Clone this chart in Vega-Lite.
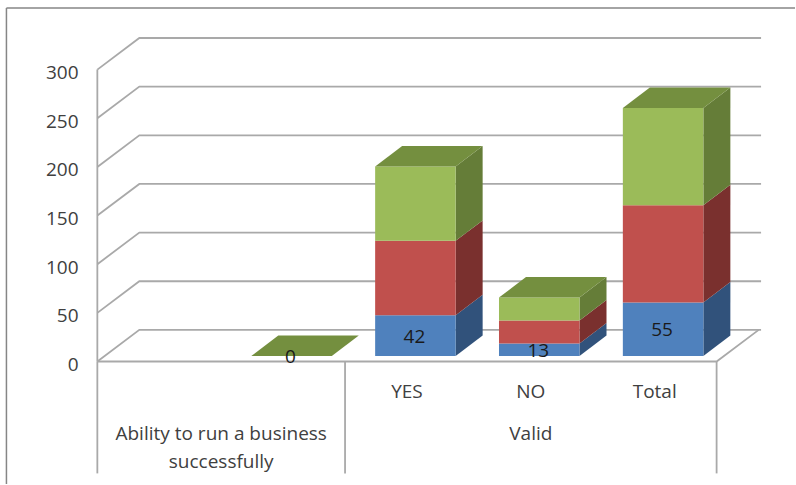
{
  "$schema": "https://vega.github.io/schema/vega-lite/v6.json",
  "width": 796,
  "height": 485,
  "padding": 0,
  "autosize": {"type": "fit", "contains": "padding"},
  "background": "white",
  "config": {
    "view": {"stroke": null},
    "axisY": {"grid": false, "domain": false, "ticks": false, "labelFont": "Open Sans", "labelFontSize": 19, "labelColor": "#404040"}
  },
  "data": {"values": [
    {"group": "Ability to run a business successfully", "category": "", "series": "Frequency", "value": 0},
    {"group": "Ability to run a business successfully", "category": "", "series": "Percent", "value": 0},
    {"group": "Ability to run a business successfully", "category": "", "series": "Valid Percent", "value": 0},
    {"group": "Valid", "category": "YES", "series": "Frequency", "value": 42},
    {"group": "Valid", "category": "YES", "series": "Percent", "value": 76.4},
    {"group": "Valid", "category": "YES", "series": "Valid Percent", "value": 76.4},
    {"group": "Valid", "category": "NO", "series": "Frequency", "value": 13},
    {"group": "Valid", "category": "NO", "series": "Percent", "value": 23.6},
    {"group": "Valid", "category": "NO", "series": "Valid Percent", "value": 23.6},
    {"group": "Valid", "category": "Total", "series": "Frequency", "value": 55},
    {"group": "Valid", "category": "Total", "series": "Percent", "value": 100},
    {"group": "Valid", "category": "Total", "series": "Valid Percent", "value": 100}
  ]},
  "transform": [
    {"stack": "value", "groupby": ["group", "category"], "sort": [{"field": "series", "order": "ascending"}], "as": ["y0", "y1"]},
    {"calculate": "indexof(['', 'YES', 'NO', 'Total'], datum.category) + 1", "as": "slot"},
    {"calculate": "datum.slot + 0.568", "as": "center"},
    {"calculate": "datum.center - 0.325", "as": "xa"},
    {"calculate": "datum.center + 0.325", "as": "xb"},
    {"calculate": "datum.y0 + 5.6", "as": "lo"},
    {"calculate": "datum.y1 + 5.6", "as": "hi"}
  ],
  "resolve": {"scale": {"color": "independent"}},
  "layer": [
    {
      "data": {"values": [{"tick": 0}, {"tick": 50}, {"tick": 100}, {"tick": 150}, {"tick": 200}, {"tick": 250}, {"tick": 300}]},
      "transform": [
        {"calculate": "[0, 0.339, 5.359]", "as": "px"},
        {"calculate": "[datum.tick, datum.tick + 32.5, datum.tick + 32.5]", "as": "py"},
        {"flatten": ["px", "py"]}
      ],
      "mark": {"type": "line", "color": "#a9a9a9", "strokeWidth": 1.8},
      "encoding": {
        "x": {"field": "px", "type": "quantitative", "scale": {"domain": [-0.786, 5.633], "nice": false, "zero": false}, "axis": null},
        "y": {
          "field": "py", "type": "quantitative", "title": null,
          "scale": {"domain": [-125.9, 371.55], "nice": false, "zero": false},
          "axis": {
            "values": [0, 50, 100, 150, 200, 250, 300],
            "offset": -97.5, "labelPadding": 19.5, "labelOffset": 3
          }
        },
        "detail": {"field": "tick"}
      }
    },
    {
      "data": {"values": [{"edge": 0}, {"edge": 2}, {"edge": 5}]},
      "mark": {"type": "rule", "color": "#a9a9a9", "strokeWidth": 1.8},
      "encoding": {
        "x": {"field": "edge", "type": "quantitative", "axis": null},
        "y": {"datum": -115, "title": null},
        "y2": {"datum": 0}
      }
    },
    {
      "data": {"values": [{"edge": 0}]},
      "mark": {"type": "rule", "color": "#a9a9a9", "strokeWidth": 1.8},
      "encoding": {
        "x": {"field": "edge", "type": "quantitative", "axis": null},
        "y": {"datum": 0, "title": null},
        "y2": {"datum": 300}
      }
    },
    {
      "data": {"values": [{"step": 0}, {"step": 1}, {"step": 2}]},
      "transform": [
        {"calculate": "[0, 5, 5.34][datum.step]", "as": "px"},
        {"calculate": "[0, 0, 32.5][datum.step]", "as": "py"}
      ],
      "mark": {"type": "line", "color": "#a9a9a9", "strokeWidth": 1.8},
      "encoding": {
        "x": {"field": "px", "type": "quantitative", "axis": null},
        "y": {"field": "py", "type": "quantitative", "title": null}
      }
    },
    {
      "data": {"values": [{"edge": -0.734}]},
      "mark": {"type": "rule", "color": "#868686", "strokeWidth": 1.5},
      "encoding": {
        "x": {"field": "edge", "type": "quantitative", "axis": null},
        "y": {"datum": -125.9, "title": null},
        "y2": {"datum": 363.3}
      }
    },
    {
      "data": {"values": [{"edge": 363.3}]},
      "mark": {"type": "rule", "color": "#868686", "strokeWidth": 1.5},
      "encoding": {
        "y": {"field": "edge", "type": "quantitative", "title": null},
        "x": {"datum": -0.734, "axis": null},
        "x2": {"datum": 5.633}
      }
    },
    {
      "transform": [
        {"calculate": "[datum.xb, datum.xb + 0.218]", "as": "px"},
        {"calculate": "[datum.lo, datum.lo + 21]", "as": "pl"},
        {"calculate": "[datum.hi, datum.hi + 21]", "as": "ph"},
        {"flatten": ["px", "pl", "ph"]}
      ],
      "mark": {"type": "area", "orient": "vertical"},
      "encoding": {
        "x": {"field": "px", "type": "quantitative", "axis": null},
        "y": {"field": "pl", "type": "quantitative", "stack": null, "title": null},
        "y2": {"field": "ph"},
        "detail": {"field": "category"},
        "color": {
          "field": "series", "type": "nominal", "legend": null,
          "scale": {"domain": ["Frequency", "Percent", "Valid Percent"], "range": ["#31527b", "#7a302e", "#657d38"]}
        }
      }
    },
    {
      "mark": {"type": "rect"},
      "encoding": {
        "x": {"field": "xa", "type": "quantitative", "axis": null},
        "x2": {"field": "xb"},
        "y": {"field": "lo", "type": "quantitative", "stack": null, "title": null},
        "y2": {"field": "hi"},
        "color": {
          "field": "series", "type": "nominal", "legend": null,
          "scale": {"domain": ["Frequency", "Percent", "Valid Percent"], "range": ["#4f81bd", "#c0504d", "#9bbb59"]}
        }
      }
    },
    {
      "transform": [
        {"filter": "datum.series === 'Valid Percent'"},
        {"calculate": "[datum.xa, datum.xa + 0.218, datum.xb, datum.xb + 0.218]", "as": "px"},
        {"calculate": "[datum.hi, datum.hi, datum.hi, datum.hi + 21]", "as": "pl"},
        {"calculate": "[datum.hi, datum.hi + 21, datum.hi + 21, datum.hi + 21]", "as": "ph"},
        {"flatten": ["px", "pl", "ph"]}
      ],
      "mark": {"type": "area", "orient": "vertical", "color": "#748f3f"},
      "encoding": {
        "x": {"field": "px", "type": "quantitative", "axis": null},
        "y": {"field": "pl", "type": "quantitative", "stack": null, "title": null},
        "y2": {"field": "ph"},
        "detail": {"field": "category"}
      }
    },
    {
      "transform": [{"filter": "datum.series === 'Frequency'"}, {"calculate": "(datum.lo + datum.hi) / 2", "as": "mid"}],
      "mark": {"type": "text", "font": "Open Sans", "fontSize": 19, "color": "#1a1a1a", "dy": 1, "dx": -1},
      "encoding": {
        "x": {"field": "center", "type": "quantitative", "axis": null},
        "y": {"field": "mid", "type": "quantitative", "stack": null, "title": null},
        "text": {"field": "value", "type": "quantitative"}
      }
    },
    {
      "transform": [
        {"filter": "datum.series === 'Frequency' && datum.category !== ''"},
        {"calculate": "datum.slot + 0.5", "as": "tickx"}
      ],
      "mark": {"type": "text", "font": "Open Sans", "fontSize": 19, "color": "#404040"},
      "encoding": {
        "x": {"field": "tickx", "type": "quantitative", "axis": null},
        "y": {"datum": -31, "title": null},
        "text": {"field": "category", "type": "nominal"}
      }
    },
    {
      "data": {"values": [
        {"label": "Ability to run a business\nsuccessfully", "first": 0, "last": 2},
        {"label": "Valid", "first": 2, "last": 5}
      ]},
      "transform": [{"calculate": "(datum.first + datum.last) / 2", "as": "mid"}],
      "mark": {"type": "text", "font": "Open Sans", "fontSize": 19, "color": "#404040", "lineBreak": "\n", "lineHeight": 28.5, "baseline": "top"},
      "encoding": {
        "x": {"field": "mid", "type": "quantitative", "axis": null},
        "y": {"datum": -65, "title": null},
        "text": {"field": "label", "type": "nominal"}
      }
    }
  ]
}
